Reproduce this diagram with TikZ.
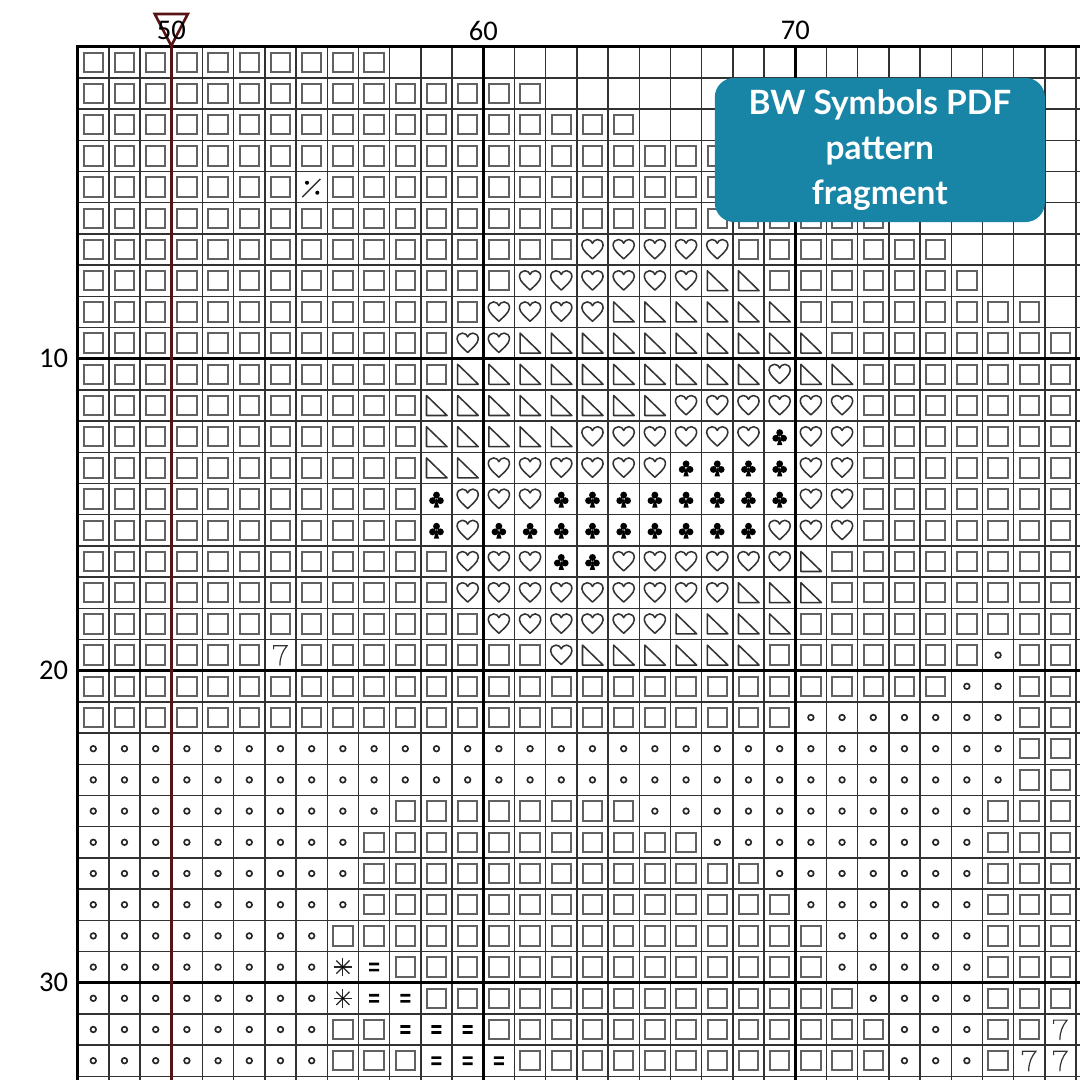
\documentclass[tikz,border=0pt]{standalone}
\usepackage{fontspec}
\usepackage{tikz}
\newfontfamily\numfont{Carlito}
\newfontfamily\boxfont{Lato}
\definecolor{PatTeal}{RGB}{24,132,166}
\definecolor{CtrRed}{RGB}{88,20,20}
\definecolor{GridGray}{RGB}{50,50,50}
\newcommand{\runs}[2]{%
  \foreach \rw/\ca/\cb in {#2}{%
    \foreach \cx in {\ca,...,\cb}{\pic at ({\cx+0.5},{-\rw-0.5}) {#1};}}}

\begin{document}
\begin{tikzpicture}[
  gridln/.style={draw=GridGray,line width=1.2pt},
  majorln/.style={draw=black,line width=2.7pt},
  symln/.style={draw=black!80,line width=1.4pt,line join=round},
  axlbl/.style={font=\numfont\fontsize{26}{30}\selectfont,inner sep=0pt},
  badge/.style={fill=PatTeal,rounded corners=0.62cm,minimum width=10.58cm,minimum height=4.62cm,
                align=center,text=white,font=\boxfont\bfseries\fontsize{30.5}{41}\selectfont},
  sq/.pic={\draw[draw=black!62,line width=1.9pt] (-0.31,-0.31) rectangle (0.31,0.31);},
  hrt/.pic={\draw[symln] (0,-0.3) .. controls (-0.1,-0.2) and (-0.34,-0.02) .. (-0.34,0.13)
           .. controls (-0.34,0.25) and (-0.26,0.32) .. (-0.17,0.32)
           .. controls (-0.08,0.32) and (-0.02,0.26) .. (0,0.2)
           .. controls (0.02,0.26) and (0.08,0.32) .. (0.17,0.32)
           .. controls (0.26,0.32) and (0.34,0.25) .. (0.34,0.13)
           .. controls (0.34,-0.02) and (0.1,-0.2) .. (0,-0.3) -- cycle;},
  tri/.pic={\draw[symln] (-0.32,0.32) -- (-0.32,-0.32) -- (0.34,-0.32) -- cycle;},
  clb/.pic={\fill[black] (0,0.13) circle (0.11) (-0.125,-0.05) circle (0.11) (0.125,-0.05) circle (0.11);
            \fill[black] (0,0.03) -- (-0.085,-0.27) -- (0.085,-0.27) -- cycle;},
  ring/.pic={\draw[black!85,line width=1.5pt] (0,0) circle (0.09);},
  pct/.pic={\draw[symln] (-0.3,-0.32) -- (0.28,0.26);
            \fill[black] (-0.15,0.14) circle (0.065) (0.18,-0.18) circle (0.065);},
  sev/.pic={\draw[black!80,line width=1.1pt] (-0.22,0.18) -- (-0.22,0.3) -- (0.21,0.3)
            .. controls (0.06,0.12) and (-0.02,-0.08) .. (-0.02,-0.34);},
  ast/.pic={\foreach \ang in {0,45,90,135}{\draw[black!85,line width=1.1pt] (\ang:0.3) -- (\ang+180:0.3);}
            \fill[black] (0,0) circle (0.045);},
  eql/.pic={\fill[black] (-0.16,0.055) rectangle (0.16,0.14) (-0.16,-0.14) rectangle (0.16,-0.055);},
]
\clip (-2.49,1.497) rectangle (32.125,-33.119);
\fill[white] (-2.49,1.497) rectangle (32.125,-33.119);

\foreach \x in {0,...,33} \draw[gridln] (\x,0) -- (\x,-33.3);
\foreach \y in {0,...,34} \draw[gridln] (0,-\y) -- (32.3,-\y);

\runs{sq}{0/0/9, 1/0/14, 2/0/17, 3/0/21, 4/0/6, 4/8/23, 5/0/25,
  6/0/15, 6/21/27, 7/0/13, 7/22/28, 8/0/12, 8/23/30, 9/0/11, 9/24/31,
  10/0/11, 10/25/31, 11/0/10, 11/25/31, 12/0/10, 12/25/31, 13/0/10, 13/25/31,
  14/0/10, 14/25/31, 15/0/10, 15/25/31, 16/0/11, 16/24/31, 17/0/11, 17/24/31,
  18/0/12, 18/23/31, 19/0/5, 19/7/14, 19/22/28, 19/30/31, 20/0/27, 20/30/31,
  21/0/22, 21/30/31, 22/30/31, 23/30/31, 24/10/17, 24/29/31, 25/9/19, 25/29/31,
  26/9/21, 26/29/31, 27/9/22, 27/29/31, 28/8/23, 28/29/31, 29/10/23, 29/29/31,
  30/11/24, 30/29/31, 31/8/9, 31/13/25, 31/29/30, 32/8/10, 32/14/25, 32/29/29}
\runs{hrt}{6/16/20, 7/14/19, 8/13/16, 9/12/13, 10/22/22, 11/19/24, 12/16/21, 12/23/24,
  13/13/18, 13/23/24, 14/12/14, 14/23/24, 15/12/12, 15/22/24, 16/12/14, 16/17/22,
  17/12/20, 18/13/18, 19/15/15}
\runs{tri}{7/20/21, 8/17/22, 9/14/23, 10/12/21, 10/23/24, 11/11/18, 12/11/15, 13/11/12,
  16/23/23, 17/21/23, 18/19/22, 19/16/21}
\runs{clb}{12/22/22, 13/19/22, 14/11/11, 14/15/22, 15/11/11, 15/13/21, 16/15/16}
\runs{ring}{19/29/29, 20/28/29, 21/23/29, 22/0/29, 23/0/29, 24/0/9, 24/18/28, 25/0/8, 25/20/28,
  26/0/8, 26/22/28, 27/0/8, 27/23/28, 28/0/7, 28/24/28, 29/0/7, 29/24/28, 30/0/7, 30/25/28,
  31/0/7, 31/26/28, 32/0/7, 32/26/28}
\runs{pct}{4/7/7}
\runs{sev}{19/6/6, 31/31/31, 32/30/31}
\runs{ast}{29/8/8, 30/8/8}
\runs{eql}{29/9/9, 30/9/10, 31/10/12, 32/11/13}

\foreach \x in {13,23} \draw[majorln] (\x,0) -- (\x,-33.3);
\foreach \y in {10,20,30} \draw[majorln] (0,-\y) -- (32.3,-\y);
\draw[majorln] (0,-33.3) -- (0,0) -- (32.3,0);

\draw[CtrRed,line width=3.2pt] (3,0.1) -- (3,-33.3);
\draw[CtrRed,line width=2.4pt,line join=miter] (2.47,1.05) -- (3.53,1.05) -- (3,0.03) -- cycle;

\node[axlbl] (l50) at (3,0.52) {50};
\node[axlbl] (l60) at (13,0.52) {60};
\node[axlbl] (l70) at (23,0.52) {70};
\node[axlbl,anchor=east] (l10) at (-0.3,-10) {10};
\node[axlbl,anchor=east] (l20) at (-0.3,-20) {20};
\node[axlbl,anchor=east] (l30) at (-0.3,-30) {30};

\node[badge] (note) at (25.71,-3.31) {BW Symbols PDF\\pattern\\fragment};
\end{tikzpicture}
\end{document}
